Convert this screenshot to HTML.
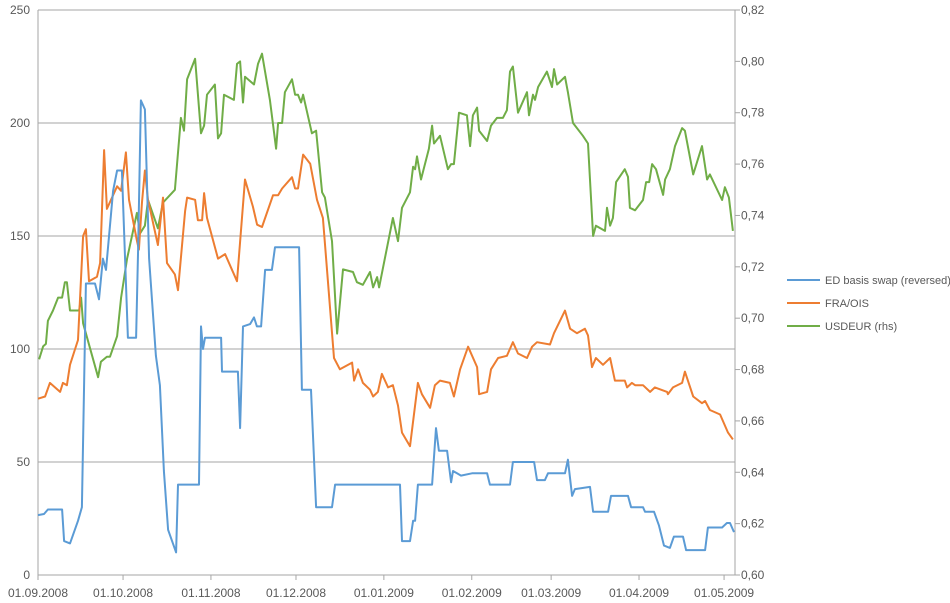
<!DOCTYPE html>
<html><head><meta charset="utf-8"><style>
body{margin:0;background:#fff;}
svg{display:block;font-family:"Liberation Sans",sans-serif;}
</style></head><body>
<svg id="chart" width="950" height="603" viewBox="0 0 950 603" xmlns="http://www.w3.org/2000/svg">
<g id="grid"></g>
<g id="axes"></g>
<g id="series"></g>
<g id="legend"></g>
</svg>
<script>
// day offsets from 01.09.2008, values
const xTickLabels=["01.09.2008","01.10.2008","01.11.2008","01.12.2008","01.01.2009","01.02.2009","01.03.2009","01.04.2009","01.05.2009"];
const xTickDays=[0,30,61,91,122,153,181,212,242];
const leftTicks=[0,50,100,150,200,250];
const rightTicks=[0.6,0.62,0.64,0.66,0.68,0.7,0.72,0.74,0.76,0.78,0.8,0.82];
const seriesNames=["ED basis swap (reversed)","FRA/OIS","USDEUR (rhs)"];
const edBasis=[[0,26.5],[2.1,27],[3.5,29],[8.5,29],[9.2,15],[11.3,14],[14.1,24],[15.5,30],[16.9,129],[20.1,129],[21.5,122],[22.9,140],[24,135],[26.5,170],[27.9,179],[29.6,179],[31.7,105],[34.6,105],[35.3,144],[36.3,210],[37.7,206],[39.2,140],[41.6,97],[43,84],[44.4,46],[45.9,20],[48.7,10],[49.4,40],[56.8,40],[57.5,110],[58.2,100],[58.9,105],[64.6,105],[64.9,90],[70.5,90],[71.3,65],[72.3,110],[74.8,111],[76.2,114],[77.2,110],[78.7,110],[80.1,135],[82.5,135],[83.6,145],[92.1,145],[93.1,82],[96.3,82],[98.1,30],[103.7,30],[104.8,40],[127.7,40],[128.4,15],[131.2,15],[132.3,24],[133,24],[134,40],[139,40],[140.4,65],[141.4,55],[144.3,55],[145.7,41],[146.4,46],[147.8,45],[149.2,44],[153.1,45],[158.4,45],[159.4,40],[166.5,40],[167.5,50],[175,50],[176,42],[178.8,42],[179.9,45],[185.9,45],[186.9,51],[188.4,35],[189.4,38],[194.7,39],[195.8,28],[201.1,28],[202.1,35],[208.1,35],[209.2,30],[213.4,30],[214.1,28],[217.3,28],[219,22],[220.8,13],[222.9,12],[224.3,17],[227.5,17],[228.6,11],[235.3,11],[236.3,21],[241.3,21],[243,23],[244.1,23],[245.5,19]];
const fraOis=[[0,78],[2.5,79],[4.2,85],[7.8,81],[8.8,85],[10.2,84],[11.3,93],[14.1,104],[15.9,150],[16.9,153],[18,130],[20.8,132],[21.9,138],[23.3,188],[24.3,162],[27.9,172],[29.3,170],[31,187],[32.1,166],[34.9,148],[35.6,144],[36.7,165],[37.7,179],[38.8,166],[42.3,146],[44.1,167],[45.5,138],[48.3,133],[49.4,126],[51.9,161],[52.6,167],[55.4,166],[56.4,157],[57.9,157],[58.6,169],[59.6,158],[63.5,140],[66,142],[70.2,130],[73,175],[75.8,163],[77.3,155],[79,154],[82.9,168],[84.7,168],[86.1,171],[89.6,176],[90.7,171],[91.7,171],[93.5,186],[96,182],[98.4,166],[100.5,158],[104.4,96],[106.5,91],[110.8,94],[111.5,86],[112.9,91],[114.6,85],[117.1,82],[118.2,79],[119.9,81],[121.3,89],[123.5,83],[125.2,84],[127,75],[128.4,63],[131.2,57],[134,85],[135.4,80],[138.3,74],[140,84],[141.8,86],[145.3,85],[146.7,79],[148.9,91],[151.7,101],[154.9,92],[155.6,80],[158.4,81],[159.8,91],[162.3,96],[165.4,97],[167.5,103],[169.3,98],[172.5,96],[174.3,101],[176,103],[180.6,102],[182,107],[185.9,117],[187.7,109],[190.1,107],[192.9,109],[194,106],[195.4,92],[196.8,96],[199.3,93],[201.8,96],[203.5,86],[207,86],[207.8,83],[209.5,85],[210.6,84],[213.4,84],[215.9,81],[217.6,83],[221.9,81],[222.2,80],[224,83],[227.2,85],[228.2,90],[231.1,79],[234.2,76],[235.3,77],[237,73],[240.6,71],[243.4,63],[245.1,60]];
const usdEur=[[0.4,0.684],[1.8,0.689],[2.8,0.690],[3.5,0.699],[5.3,0.703],[7.1,0.708],[8.5,0.708],[9.5,0.714],[10.2,0.714],[11.3,0.703],[14.5,0.703],[15.2,0.708],[15.9,0.698],[21.2,0.677],[22.2,0.683],[24.3,0.685],[25.4,0.685],[27.9,0.693],[29.3,0.708],[31.4,0.723],[34.9,0.741],[36,0.733],[37.7,0.736],[38.8,0.746],[42.3,0.735],[44.1,0.745],[48.3,0.750],[50.4,0.778],[51.5,0.773],[52.6,0.793],[55.4,0.801],[57.5,0.772],[58.6,0.775],[59.6,0.787],[62.4,0.791],[63.5,0.770],[64.6,0.772],[65.6,0.787],[69.1,0.785],[70.2,0.799],[71.3,0.800],[72.3,0.784],[73,0.794],[76.2,0.791],[77.6,0.799],[79,0.803],[81.8,0.785],[84,0.766],[84.7,0.776],[86.1,0.776],[87.1,0.788],[89.6,0.793],[90.7,0.787],[91.7,0.787],[92.8,0.784],[93.5,0.787],[96.6,0.772],[98.1,0.773],[100.2,0.749],[101.2,0.747],[103.7,0.730],[105.5,0.694],[107.6,0.719],[111.1,0.718],[112.5,0.714],[114.6,0.713],[117.1,0.718],[118.2,0.712],[119.6,0.716],[120.3,0.712],[125.2,0.739],[127,0.730],[128.4,0.743],[131.2,0.749],[132.3,0.759],[133,0.758],[133.7,0.763],[135.1,0.754],[137.9,0.766],[139,0.775],[139.7,0.768],[141.8,0.771],[144.6,0.758],[145.7,0.760],[146.7,0.760],[148.5,0.780],[151.3,0.779],[152.4,0.767],[153.4,0.779],[154.9,0.782],[155.6,0.773],[158.4,0.769],[159.8,0.775],[161.9,0.778],[164,0.778],[165.4,0.781],[166.5,0.796],[167.5,0.798],[169.3,0.780],[172.5,0.788],[173.2,0.779],[174.6,0.787],[175.3,0.785],[176.4,0.790],[179.5,0.796],[181.3,0.790],[182,0.797],[183.1,0.791],[185.9,0.794],[186.9,0.788],[188.7,0.776],[192.2,0.771],[194,0.768],[195.8,0.732],[196.8,0.736],[200,0.734],[200.7,0.743],[201.8,0.736],[202.8,0.739],[203.9,0.753],[207,0.758],[208.1,0.755],[208.8,0.743],[210.6,0.742],[213.4,0.746],[214.5,0.753],[215.6,0.753],[216.6,0.760],[218,0.758],[220.5,0.748],[221.2,0.754],[222.9,0.758],[224.7,0.767],[227.2,0.774],[228.2,0.773],[231.1,0.756],[234.2,0.767],[236,0.754],[237,0.756],[241.3,0.746],[242.3,0.751],[243.7,0.747],[245.1,0.734]];

const NS="http://www.w3.org/2000/svg";
const X0=38,X1=735,Y0=575,Y1=10,PXD=2.835;
const xS=d=>X0+d*PXD;
const yL=v=>Y0-(v/250)*(Y0-Y1);
const yR=v=>Y0-((v-0.6)/0.22)*(Y0-Y1);
function mk(tag,attrs,parent,text){const e=document.createElementNS(NS,tag);for(const k in attrs)e.setAttribute(k,attrs[k]);if(text!==undefined)e.textContent=text;parent.appendChild(e);return e;}
const grid=document.getElementById('grid'),axes=document.getElementById('axes'),ser=document.getElementById('series'),leg=document.getElementById('legend');
leftTicks.forEach(v=>{
  const y=yL(v);
  if(v>0){const l=mk('line',{x1:X0,x2:X1,y1:y,y2:y,stroke:'#a6a6a6','stroke-width':1},grid);
  
  }
  const t=mk('text',{x:30,y:y+4,'text-anchor':'end','font-size':12,fill:'#595959'},axes,String(v));
  
  
});
rightTicks.forEach(v=>{
  const y=yR(v);
  mk('line',{x1:X1,x2:X1+5,y1:y,y2:y,stroke:'#a6a6a6'},axes);
  const t=mk('text',{x:741,y:y+4,'font-size':12,fill:'#595959'},axes,v.toFixed(2).replace('.',','));
  
  
});
mk('line',{x1:X0,x2:X0,y1:Y1,y2:Y0,stroke:'#a6a6a6'},axes);
mk('line',{x1:X1,x2:X1,y1:Y1,y2:Y0,stroke:'#a6a6a6'},axes);
mk('line',{x1:X0,x2:X1,y1:Y0,y2:Y0,stroke:'#a6a6a6'},axes);
xTickDays.forEach((d,i)=>{
  const x=xS(d);
  mk('line',{x1:x,x2:x,y1:Y0,y2:Y0+5,stroke:'#a6a6a6'},axes);
  const t=mk('text',{x:x,y:597,'text-anchor':'middle','font-size':12,fill:'#595959'},axes,xTickLabels[i]);
  
  
});
function line(data,yf,color,name){
  const p=mk('polyline',{points:data.map(([d,v])=>xS(d).toFixed(1)+','+yf(v).toFixed(1)).join(' '),fill:'none',stroke:color,'stroke-width':2,'stroke-linejoin':'round'},ser);
  
  
}
line(usdEur,yR,'#70ad47','usdeur-line');
line(fraOis,yL,'#ed7d31','fra-ois-line');
line(edBasis,yL,'#5b9bd5','ed-basis-line');
const colors=['#5b9bd5','#ed7d31','#70ad47'];
seriesNames.forEach((n,i)=>{
  const y=280+i*23;
  const g=mk('g',{},leg);
  
  
  mk('line',{x1:787,x2:820,y1:y,y2:y,stroke:colors[i],'stroke-width':2},g);
  mk('text',{x:825,y:y+4,'font-size':11,fill:'#595959'},g,n);
});
</script>
</body></html>
